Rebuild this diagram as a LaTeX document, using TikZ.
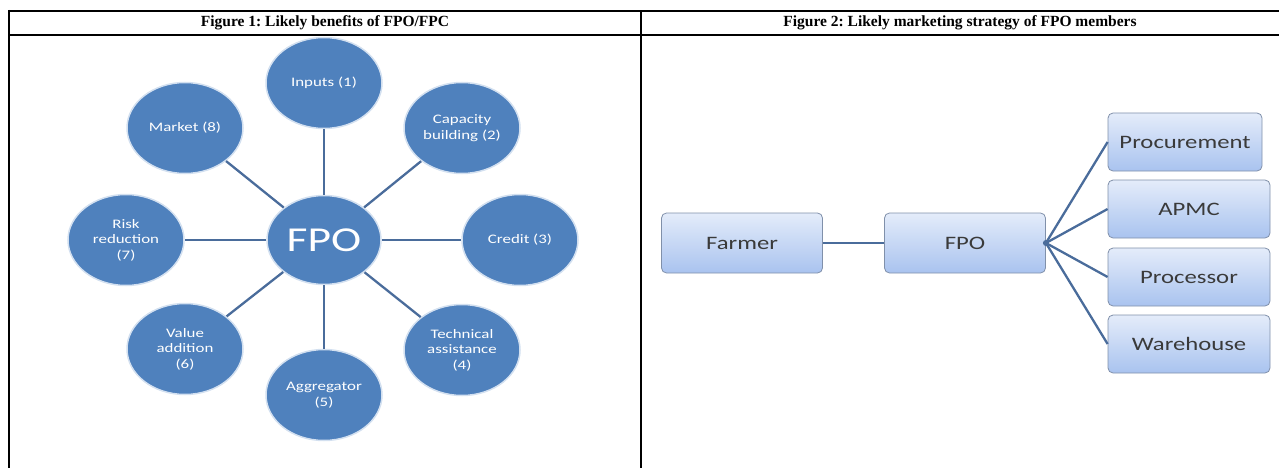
\documentclass[tikz,border=0pt]{standalone}
\usepackage{fontspec}
\setmainfont{Liberation Serif}
\newfontfamily\calib[FakeStretch=1.3]{Carlito}
\usetikzlibrary{shapes.geometric}
\definecolor{ellfill}{HTML}{4F81BD}
\definecolor{ellrim}{HTML}{D3E0F0}
\definecolor{conn}{HTML}{4A6C9B}
\definecolor{boxtop}{HTML}{E4ECFA}
\definecolor{boxbot}{HTML}{A9C3EF}
\definecolor{boxrim}{HTML}{8090AA}
\definecolor{boxtext}{HTML}{3A3A3A}
\frenchspacing
\tikzset{
  rule/.style={line width=2pt, black},
  title/.style={font=\fontsize{15.5}{17}\selectfont\bfseries, inner sep=0pt},
  bubble/.style={ellipse, fill=ellfill, draw=ellrim, line width=1.5pt,
    minimum width=116pt, minimum height=91pt, inner sep=0pt,
    text=white, align=center, font=\calib\fontsize{13}{15.6}\selectfont},
  hubbubble/.style={bubble, minimum width=114pt, minimum height=89pt,
    font=\calib\fontsize{35}{40}\selectfont},
  spoke/.style={draw=conn, line width=2.3pt},
  flowbox/.style={rectangle, rounded corners=5pt, draw=boxrim, line width=0.8pt,
    top color=boxtop, bottom color=boxbot, inner sep=0pt,
    text=boxtext, font=\calib\fontsize{19}{22}\selectfont},
  flowline/.style={draw=conn, line width=2.3pt},
}
\begin{document}
\begin{tikzpicture}[x=1pt,y=1pt]
\useasboundingbox (0,0) rectangle (1279,-468);
% table rules
\coordinate (tl) at (8,-11);
\coordinate (tr) at (1279,-11);
\coordinate (hl) at (8,-35);
\coordinate (hr) at (1279,-35);
\coordinate (lb) at (9,-468);
\coordinate (mt) at (641,-11);
\coordinate (mb) at (641,-468);
\draw[rule] (tl) -- (tr);
\draw[rule] (hl) -- (hr);
\draw[rule] (9,-10) -- (lb);
\draw[rule] (mt) -- (mb);
\node[title] (t1) at (325,-23) {Figure 1: Likely benefits of FPO/FPC};
\node[title] (t2) at (960,-23) {Figure 2: Likely marketing strategy of FPO members};

% Figure 1
\node[hubbubble] (fpo1) at (324,-240) {FPO};
\node[bubble] (in) at (324,-83) {Inputs (1)};
\node[bubble] (cap) at (462,-128) {Capacity\\building (2)};
\node[bubble] (cred) at (520,-240) {Credit (3)};
\node[bubble] (tech) at (462,-350) {Technical\\assistance\\(4)};
\node[bubble] (agg) at (324,-395) {Aggregator\\(5)};
\node[bubble] (val) at (185,-349) {Value\\addition\\(6)};
\node[bubble] (risk) at (126,-240) {Risk\\reduction\\(7)};
\node[bubble] (mkt) at (185,-128) {Market (8)};
\foreach \n in {in,cap,cred,tech,agg,val,risk,mkt}
  \draw[spoke] (fpo1) -- (\n);

% Figure 2
\node[flowbox, minimum width=161pt, minimum height=60pt] (farmer) at (742,-243) {Farmer};
\node[flowbox, minimum width=161pt, minimum height=60pt] (fpo2) at (965,-243) {FPO};
\node[flowbox, minimum width=154pt, minimum height=58pt] (proc) at (1185,-142) {Procurement};
\node[flowbox, minimum width=162pt, minimum height=58pt] (apmc) at (1189,-209) {APMC};
\node[flowbox, minimum width=162pt, minimum height=58pt] (pros) at (1189,-277) {Processor};
\node[flowbox, minimum width=162pt, minimum height=58pt] (ware) at (1189,-344) {Warehouse};
\draw[flowline] (farmer) -- (fpo2);
\coordinate (hub) at (fpo2.east);
\fill[conn] (hub) circle (3pt);
\foreach \n in {proc,apmc,pros,ware}
  \draw[flowline] (hub) -- (\n.west);
\end{tikzpicture}
\end{document}
